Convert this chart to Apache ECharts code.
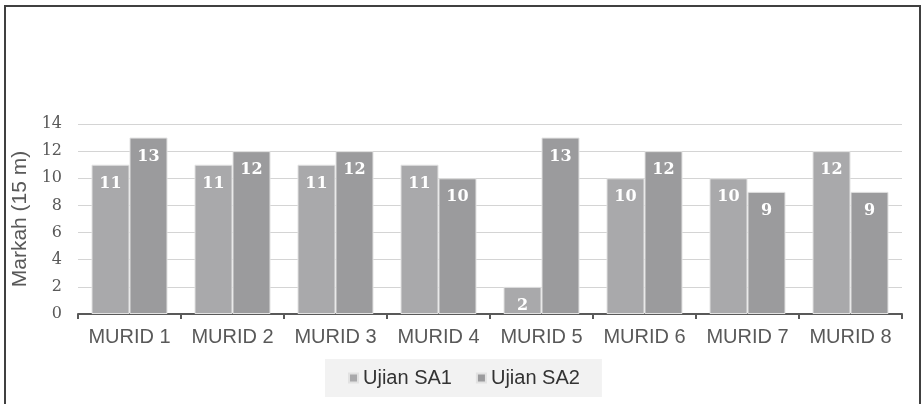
<!DOCTYPE html>
<html>
<head>
<meta charset="utf-8">
<script src="https://cdn.jsdelivr.net/npm/echarts@6/dist/echarts.min.js"></script>
<style>
html,body{margin:0;padding:0;background:#fff;}
#c{width:922px;height:404px;}
</style>
</head>
<body>
<div id="c"></div>
<script>
var categories = ['MURID 1','MURID 2','MURID 3','MURID 4','MURID 5','MURID 6','MURID 7','MURID 8'];
var seriesNames = ['Ujian SA1','Ujian SA2'];
var sa1 = [11, 11, 11, 11, 2, 10, 10, 12];
var sa2 = [13, 12, 12, 10, 13, 12, 9, 9];
var yTicks = {min: 0, max: 14, interval: 2};

var chart = echarts.init(document.getElementById('c'), null, {renderer: 'canvas'});
var labelStyle = {
  show: true, position: 'insideTop', distance: 11,
  color: '#ffffff', fontFamily: 'DejaVu Serif', fontWeight: 'bold', fontSize: 16
};
chart.setOption({
  animation: false,
  graphic: [{
    type: 'rect', silent: true,
    shape: {x: 5, y: 6, width: 915, height: 420},
    style: {fill: 'none', stroke: '#404040', lineWidth: 2}
  }],
  grid: {left: 78, right: 20, top: 124, bottom: 90},
  legend: {
    data: seriesNames,
    left: 325, top: 359,
    padding: [9, 22, 9, 23],
    itemGap: 24, itemWidth: 9, itemHeight: 9, icon: 'rect',
    backgroundColor: '#f2f2f2',
    textStyle: {color: '#333333', fontFamily: 'Liberation Sans', fontSize: 20}
  },
  xAxis: {
    type: 'category', data: categories,
    axisLine: {lineStyle: {color: '#595959', width: 2}},
    axisTick: {show: true, alignWithLabel: false, length: 5, lineStyle: {color: '#595959', width: 2}},
    axisLabel: {color: '#595959', fontFamily: 'Liberation Sans', fontSize: 20, margin: 13, interval: 0}
  },
  yAxis: {
    type: 'value', min: yTicks.min, max: yTicks.max, interval: yTicks.interval,
    name: 'Markah (15 m)', nameLocation: 'middle', nameRotate: 90, nameGap: 43,
    nameTextStyle: {color: '#595959', fontFamily: 'Liberation Sans', fontSize: 21},
    axisLine: {show: false}, axisTick: {show: false},
    axisLabel: {color: '#595959', fontFamily: 'DejaVu Serif', fontSize: 16, margin: 16},
    splitLine: {lineStyle: {color: '#d4d4d4', width: 1}}
  },
  series: [
    {name: seriesNames[0], type: 'bar', data: sa1, barWidth: 38, barGap: '0%',
     itemStyle: {color: '#a9a9ab', borderColor: '#e2e2e2', borderWidth: 1},
     label: labelStyle},
    {name: seriesNames[1], type: 'bar', data: sa2, barWidth: 38, barGap: '0%',
     itemStyle: {color: '#9b9b9d', borderColor: '#e2e2e2', borderWidth: 1},
     label: labelStyle}
  ]
});
</script>
</body>
</html>
